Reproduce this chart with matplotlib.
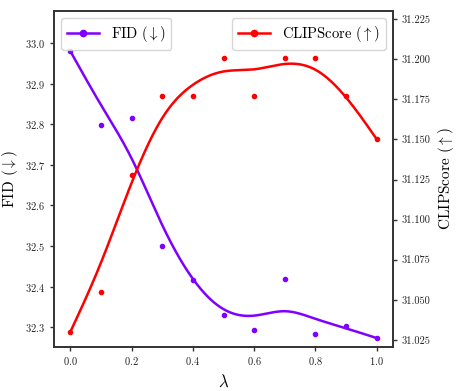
import numpy as np
import matplotlib
matplotlib.use("Agg")
import matplotlib.pyplot as plt
from matplotlib.lines import Line2D

# data
lam = [0.0, 0.1, 0.2, 0.3, 0.4, 0.5, 0.6, 0.7, 0.8, 0.9, 1.0]
fid = [32.981, 32.798, 32.815, 32.499, 32.417, 32.329, 32.294, 32.418, 32.284, 32.303, 32.273]
clip = [31.030, 31.055, 31.128, 31.177, 31.177, 31.201, 31.177, 31.201, 31.201, 31.177, 31.150]

fid_color = "#7f00ff"
clip_color = "#ff0000"


def smooth_fit(x, y, penalty=5e-4, end_weight=50.0, n=501):
    # penalised smoother on a fine grid (like a cubic smoothing spline),
    # end points weighted up so the curve starts/ends on the data
    x = np.asarray(x)
    y = np.asarray(y)
    grid = np.linspace(x.min(), x.max(), n)
    h = grid[1] - grid[0]
    idx = np.round((x - x.min()) / h).astype(int)
    wts = np.ones(len(x))
    wts[0] = wts[-1] = end_weight
    w = np.zeros(n)
    wy = np.zeros(n)
    w[idx] = wts
    wy[idx] = wts * y
    D = np.diff(np.eye(n), 2, axis=0)
    A = np.diag(w) + penalty / h**3 * D.T @ D
    return grid, np.linalg.solve(A, wy)


plt.rcParams.update({
    "font.family": "serif",
    "font.serif": ["cmr10"],
    "mathtext.fontset": "cm",
    "axes.formatter.use_mathtext": True,
    "axes.unicode_minus": False,
    "xtick.labelsize": 7.5,
    "ytick.labelsize": 7.5,
    "axes.labelsize": 11,
    "legend.fontsize": 10.5,
    "axes.edgecolor": "#333333",
    "axes.linewidth": 1.2,
    "xtick.color": "#333333",
    "ytick.color": "#333333",
    "xtick.labelcolor": "#222222",
    "ytick.labelcolor": "#222222",
})

fig = plt.figure(figsize=(4.57, 3.91), dpi=100)
ax1 = fig.add_axes([0.1175, 0.1125, 0.7425, 0.86])
ax2 = ax1.twinx()

gx, gy = smooth_fit(lam, fid)
ax1.plot(gx, gy, color=fid_color, lw=1.8)
ax1.scatter(lam, fid, color=fid_color, s=9, zorder=3)

gx, gy = smooth_fit(lam, clip)
ax2.plot(gx, gy, color=clip_color, lw=1.8)
ax2.scatter(lam, clip, color=clip_color, s=9, zorder=3)

ax1.set_xlim(-0.054, 1.053)
ax1.set_ylim(32.251, 33.08)
ax2.set_ylim(31.0206, 31.2302)
ax1.set_xticks([0.0, 0.2, 0.4, 0.6, 0.8, 1.0])
ax1.set_yticks([32.3, 32.4, 32.5, 32.6, 32.7, 32.8, 32.9, 33.0])
ax2.set_yticks([31.025, 31.05, 31.075, 31.1, 31.125, 31.15, 31.175, 31.2, 31.225])
ax2.yaxis.set_major_formatter(matplotlib.ticker.FormatStrFormatter("%.3f"))

for a in (ax1, ax2):
    a.tick_params(length=3, width=1, pad=3)

ax1.set_xlabel(r"$\lambda$", fontsize=12)
ax1.set_ylabel(r"FID ($\downarrow$)")
ax2.set_ylabel(r"CLIPScore ($\uparrow$)")

h1 = Line2D([], [], color=fid_color, lw=1.8, marker="o", markersize=4.5)
h2 = Line2D([], [], color=clip_color, lw=1.8, marker="o", markersize=4.5)
ax1.legend([h1], [r"FID ($\downarrow$)"], loc="upper left", handlelength=2.2)
ax2.legend([h2], [r"CLIPScore ($\uparrow$)"], loc="upper right", handlelength=2.2)

fig.savefig("out.png", dpi=100)
